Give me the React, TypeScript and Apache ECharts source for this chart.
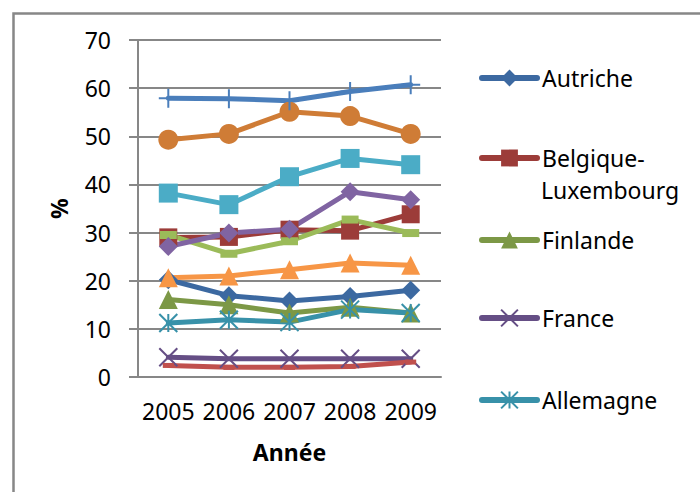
import React, { useEffect, useRef } from "react";
import * as echarts from "echarts";

const years = ["2005", "2006", "2007", "2008", "2009"];
const seriesNames = [
  "Autriche",
  "Belgique-Luxembourg",
  "Finlande",
  "France",
  "Allemagne",
  "Série 6",
  "Série 7",
  "Série 8",
  "Série 9",
  "Série 10",
  "Série 11",
  "Série 12",
];
const autriche = [20.2, 16.9, 15.8, 16.7, 18.0];
const belgiqueLux = [29.0, 29.1, 30.6, 30.4, 33.8];
const finlande = [16.1, 15.0, 13.3, 14.5, 13.3];
const france = [4.1, 3.8, 3.8, 3.8, 3.8];
const allemagne = [11.2, 11.9, 11.4, 14.0, 13.3];
const serie6 = [49.3, 50.5, 55.1, 54.2, 50.5];
const serie7 = [57.9, 57.8, 57.4, 59.3, 60.7];
const serie8 = [2.4, 2.0, 2.0, 2.2, 3.1];
const serie9 = [29.5, 25.6, 28.2, 32.7, 29.9];
const serie10 = [27.1, 29.9, 30.7, 38.5, 36.8];
const serie11 = [38.2, 35.8, 41.6, 45.4, 44.1];
const serie12 = [20.6, 21.0, 22.3, 23.7, 23.2];
const allValues = [
  autriche, belgiqueLux, finlande, france, allemagne, serie6,
  serie7, serie8, serie9, serie10, serie11, serie12,
];
const yTicks = [0, 10, 20, 30, 40, 50, 60, 70];
const legendNames = seriesNames.slice(0, 5);

const colors = [
  "#3C69A1", "#9C3C39", "#7C9846", "#654E85", "#3891A9", "#CF7C36",
  "#4A7EBB", "#C0504D", "#9BBB59", "#8064A2", "#4BACC6", "#F79646",
];
const PLUS = "path://M5,0L5,10M0,5L10,5";
const CROSS = "path://M0,0L10,10M10,0L0,10";
const STAR = "path://M5,0L5,10M0,0L10,10M10,0L0,10";
const symbols: any[] = [
  "diamond", "rect", "triangle", CROSS, STAR, "circle",
  PLUS, "rect", "rect", "diamond", "rect", "triangle",
];
const symbolSizes: any[] = [19, 18, 19, 18, 18, 20, 19, [11, 5], [17, 8], 19, 19, 19];

const FONT = "'Noto Sans', 'Open Sans', sans-serif";
const GRAY = "#878787";

export default function App() {
  const ref = useRef<HTMLDivElement>(null);
  useEffect(() => {
    if (!ref.current) return;
    const chart = echarts.init(ref.current, null, { renderer: "svg" });
    const isStroke = (s: any) => s === PLUS || s === CROSS || s === STAR;
    const series = allValues.map((vals, i) => ({
      name: seriesNames[i],
      type: "line",
      data: vals,
      symbol: symbols[i],
      symbolSize: symbolSizes[i],
      showAllSymbol: true,
      lineStyle: { width: 5, color: colors[i], cap: "round", join: "round" },
      itemStyle: isStroke(symbols[i])
        ? { color: colors[i], borderColor: colors[i], borderWidth: 2 }
        : { color: colors[i], borderWidth: 0 },
      emphasis: { disabled: true },
    }));
    const centers = [78, 158, 240, 318, 400];
    const legends = legendNames.map((n, i) => ({
      data: [n],
      orient: "vertical",
      left: 479,
      top: centers[i] - 15,
      padding: 0,
      itemWidth: 55,
      itemHeight: 21,
      selectedMode: false,
      lineStyle: { width: 6, cap: "round" },
      formatter: (name: string) => (name === "Belgique-Luxembourg" ? "Belgique-" : name),
      textStyle: { fontSize: 23, color: "#000", fontFamily: FONT, lineHeight: 30 },
    }));
    chart.setOption({
      animation: false,
      color: colors,
      textStyle: { fontFamily: FONT },
      grid: { left: 138, right: 259, top: 40, bottom: 115, containLabel: false },
      xAxis: {
        type: "category",
        data: years,
        boundaryGap: true,
        name: "Année",
        nameLocation: "middle",
        nameGap: 63,
        nameTextStyle: { fontSize: 23, fontWeight: "bold", color: "#000", fontFamily: FONT },
        axisLine: { show: true, lineStyle: { color: GRAY, width: 2 } },
        axisTick: { show: false },
        axisLabel: { fontSize: 23, color: "#000", margin: 22, fontFamily: FONT, interval: 0 },
        splitLine: { show: false },
      },
      yAxis: {
        type: "value",
        min: yTicks[0],
        max: yTicks[yTicks.length - 1],
        interval: 10,
        name: "%",
        nameLocation: "middle",
        nameRotate: 90,
        nameGap: 68,
        nameTextStyle: { fontSize: 23, fontWeight: "bold", color: "#000", fontFamily: FONT },
        axisLine: { show: true, lineStyle: { color: GRAY, width: 2 } },
        axisTick: { show: true, length: 9, lineStyle: { color: GRAY, width: 2 } },
        axisLabel: { fontSize: 23, color: "#000", margin: 27, fontFamily: FONT },
        splitLine: { show: true, lineStyle: { color: GRAY, width: 2 } },
      },
      legend: legends,
      graphic: [
        {
          type: "rect",
          left: 11,
          top: 11,
          shape: { width: 900, height: 700 },
          style: { fill: "none", stroke: GRAY, lineWidth: 2.5 },
          silent: true,
        },
        {
          type: "text",
          x: 541,
          y: 190,
          style: {
            text: "Luxembourg",
            font: `23px ${FONT}`,
            fill: "#000",
            verticalAlign: "middle",
          },
          silent: true,
        },
      ],
      series,
    });
    return () => chart.dispose();
  }, []);
  return (
    <div
      ref={ref}
      style={{ position: "fixed", left: 0, top: 0, width: 700, height: 492, background: "#fff" }}
    />
  );
}
